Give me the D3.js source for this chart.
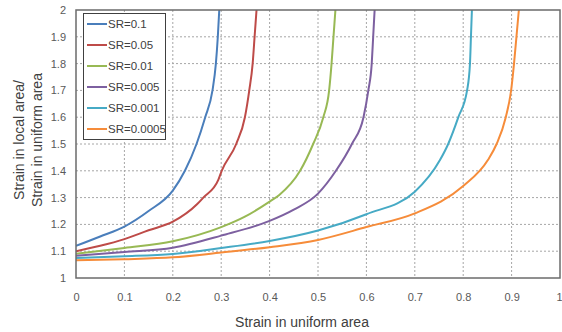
<!DOCTYPE html>
<html>
<head>
<meta charset="utf-8">
<script src="https://cdn.jsdelivr.net/npm/d3@7"></script>
<style>
  html, body { margin: 0; padding: 0; background: #fff; }
  svg { display: block; font-family: "Liberation Sans", Arial, sans-serif; }
</style>
</head>
<body>
<svg id="chart" width="562" height="332"></svg>
<script>
// ---- data ----
const seriesNames = ["SR=0.1", "SR=0.05", "SR=0.01", "SR=0.005", "SR=0.001", "SR=0.0005"];
const seriesColors = ["#4A7EBB", "#BE4B48", "#98B954", "#7D60A0", "#46AAC5", "#F68C3A"];

const sr01 = [[0,1.12],[0.05,1.155],[0.1,1.192],[0.15,1.25],[0.2,1.326],[0.225,1.40],[0.249,1.5],[0.267,1.6],[0.282,1.7],[0.289,1.8],[0.293,1.9],[0.296,2.0]];
const sr005 = [[0,1.10],[0.05,1.12],[0.1,1.145],[0.15,1.178],[0.2,1.21],[0.25,1.275],[0.263,1.30],[0.294,1.366],[0.301,1.40],[0.331,1.5],[0.349,1.6],[0.358,1.7],[0.365,1.8],[0.369,1.9],[0.373,2.0]];
const sr001 = [[0,1.09],[0.1,1.112],[0.2,1.137],[0.3,1.19],[0.35,1.23],[0.4,1.285],[0.42,1.31],[0.463,1.40],[0.49,1.5],[0.511,1.6],[0.523,1.7],[0.528,1.8],[0.532,1.9],[0.536,2.0]];
const sr0005 = [[0,1.083],[0.1,1.097],[0.2,1.113],[0.3,1.158],[0.4,1.213],[0.45,1.255],[0.5,1.315],[0.537,1.40],[0.57,1.5],[0.594,1.6],[0.604,1.7],[0.611,1.8],[0.614,1.9],[0.617,2.0]];
const sr0001 = [[0,1.075],[0.1,1.081],[0.2,1.09],[0.3,1.112],[0.4,1.138],[0.5,1.177],[0.6,1.238],[0.7,1.322],[0.752,1.44],[0.769,1.5],[0.79,1.6],[0.808,1.7],[0.814,1.8],[0.816,1.9],[0.818,2.0]];
const sr00005 = [[0,1.066],[0.1,1.07],[0.2,1.077],[0.3,1.095],[0.4,1.115],[0.5,1.142],[0.6,1.19],[0.7,1.241],[0.8,1.343],[0.851,1.44],[0.869,1.5],[0.888,1.6],[0.899,1.7],[0.905,1.8],[0.91,1.9],[0.915,2.0]];
const seriesValues = [sr01, sr005, sr001, sr0005, sr0001, sr00005];

const xTicks = [0,0.1,0.2,0.3,0.4,0.5,0.6,0.7,0.8,0.9,1];
const yTicks = [1,1.1,1.2,1.3,1.4,1.5,1.6,1.7,1.8,1.9,2];
const xTitle = "Strain in uniform area";
const yTitleLines = ["Strain in local area/", "Strain in uniform area"];

// ---- layout ----
const L = 76, R = 560, T = 10, B = 278;
const svg = d3.select("#chart");
const x = d3.scaleLinear().domain([0,1]).range([L,R]);
const y = d3.scaleLinear().domain([1,2]).range([B,T]);

// grid
const grid = svg.append("g");
grid.selectAll("line.v").data(xTicks.slice(1,-1)).join("line")
  .attr("x1", d => x(d)).attr("x2", d => x(d)).attr("y1", T).attr("y2", B)
  .attr("stroke", "#a6a6a6").attr("stroke-width", 1).attr("stroke-dasharray", "2,2");
grid.selectAll("line.h").data(yTicks.slice(1,-1)).join("line")
  .attr("x1", L).attr("x2", R).attr("y1", d => y(d)).attr("y2", d => y(d))
  .attr("stroke", "#a6a6a6").attr("stroke-width", 1).attr("stroke-dasharray", "2,2");

// axes (labels only)
const fmt = d => d3.format("")(+d.toFixed(1));
const xAxis = d3.axisBottom(x).tickValues(xTicks).tickSize(0).tickPadding(15).tickFormat(fmt);
const gx = svg.append("g").attr("transform", `translate(0,${B})`).call(xAxis);
gx.select(".domain").remove();
gx.selectAll("text").attr("fill", "#595959").style("font-size", "11px").style("font-family", "Liberation Sans, Arial, sans-serif");
gx.selectAll("text").filter(d => d === 1).attr("text-anchor", "end").attr("dx", 2);

const yAxis = d3.axisLeft(y).tickValues(yTicks).tickSize(0).tickPadding(10).tickFormat(fmt);
const gy = svg.append("g").attr("transform", `translate(${L},0)`).call(yAxis);
gy.select(".domain").remove();
gy.selectAll("text").attr("fill", "#595959").style("font-size", "11px").style("font-family", "Liberation Sans, Arial, sans-serif");

// lines
svg.append("clipPath").attr("id", "clip").append("rect")
  .attr("x", L).attr("y", T).attr("width", R-L).attr("height", B-T);
const line = d3.line().x(d => x(d[0])).y(d => y(d[1])).curve(d3.curveMonotoneX);
svg.append("g").attr("clip-path", "url(#clip)")
  .selectAll("path").data(seriesValues).join("path")
  .attr("d", line).attr("fill", "none")
  .attr("stroke", (d,i) => seriesColors[i]).attr("stroke-width", 2);

// border
svg.append("rect").attr("x", L).attr("y", T).attr("width", R-L).attr("height", B-T)
  .attr("fill", "none").attr("stroke", "#6b6b6b").attr("stroke-width", 1.5);

// legend
const lg = svg.append("g");
lg.append("rect").attr("x", 83.5).attr("y", 13.5).attr("width", 82).attr("height", 126)
  .attr("fill", "#fff").attr("stroke", "#404040").attr("stroke-width", 1);
const items = lg.selectAll("g.item").data(seriesNames).join("g")
  .attr("transform", (d,i) => `translate(0,${24 + i*21})`);
items.append("line").attr("x1", 87).attr("x2", 107).attr("y1", 0).attr("y2", 0)
  .attr("stroke", (d,i) => seriesColors[i]).attr("stroke-width", 2);
items.append("text").attr("x", 108).attr("y", 4).text(d => d)
  .attr("fill", "#404040").style("font-size", "11.5px");

// titles
svg.append("text").attr("x", 302).attr("y", 327).attr("text-anchor", "middle")
  .attr("fill", "#404040").style("font-size", "14px").text(xTitle);
const yt = svg.append("text").attr("transform", "translate(0,140) rotate(-90)")
  .attr("text-anchor", "middle").attr("fill", "#404040").style("font-size", "14px");
yt.selectAll("tspan").data(yTitleLines).join("tspan")
  .attr("x", 0).attr("y", (d,i) => 24 + i*18).text(d => d);
</script>
</body>
</html>
